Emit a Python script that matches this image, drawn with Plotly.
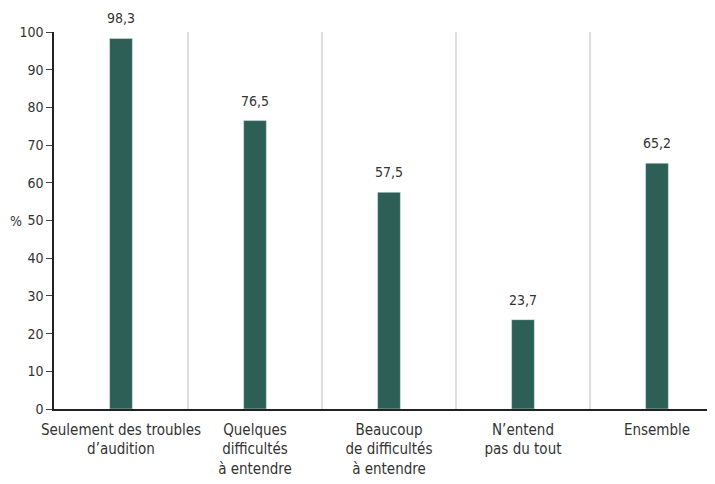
import plotly.graph_objects as go

categories = ["Seulement des troubles<br>d’audition", "Quelques<br>difficultés<br>à entendre",
              "Beaucoup<br>de difficultés<br>à entendre", "N’entend<br>pas du tout", "Ensemble"]
values = [98.3, 76.5, 57.5, 23.7, 65.2]
labels = ["98,3", "76,5", "57,5", "23,7", "65,2"]
y_ticks = list(range(0, 101, 10))

FONT = "DejaVu Sans Condensed, Liberation Sans Narrow, sans-serif"
BAR = "#2d5f57"
TXT = "#333333"

fig = go.Figure()
fig.add_trace(go.Bar(x=list(range(len(categories))), y=values, marker_color=BAR,
                     width=0.17, hoverinfo="skip"))

for i, (v, t) in enumerate(zip(values, labels)):
    fig.add_annotation(x=i, y=v, text=t, showarrow=False, yanchor="bottom", yshift=10,
                       font=dict(family=FONT, size=14, color=TXT))

for i in range(len(categories) - 1):
    fig.add_shape(type="line", x0=i + 0.5, x1=i + 0.5, y0=0, y1=100, xref="x", yref="y",
                  line=dict(color="#d3d3d3", width=1.5), layer="below")

fig.add_annotation(xref="paper", yref="paper", x=-0.0698, y=0.5, xanchor="left", text="%",
                   showarrow=False, font=dict(family=FONT, size=14, color=TXT))

fig.update_layout(
    width=707, height=476, margin=dict(l=46, r=2, t=24, b=75),
    plot_bgcolor="white", paper_bgcolor="white", showlegend=False,
    font=dict(family=FONT, size=14, color=TXT),
    xaxis=dict(range=[-0.5, 4.418], tickmode="array", tickvals=list(range(len(categories))),
               ticktext=categories, showgrid=False, zeroline=False, showline=True,
               linecolor="#222222", linewidth=1.5, ticks="", automargin=False,
               ticklabelstandoff=6, tickfont=dict(size=15, color=TXT)),
    yaxis=dict(range=[0, 100], tickmode="array", tickvals=y_ticks, showgrid=False, zeroline=False,
               showline=True, linecolor="#222222", linewidth=1.5, ticks="outside", ticklen=6,
               automargin=False, tickcolor="#444444", tickfont=dict(size=14, color=TXT)),
)

fig.write_html("out.html")
